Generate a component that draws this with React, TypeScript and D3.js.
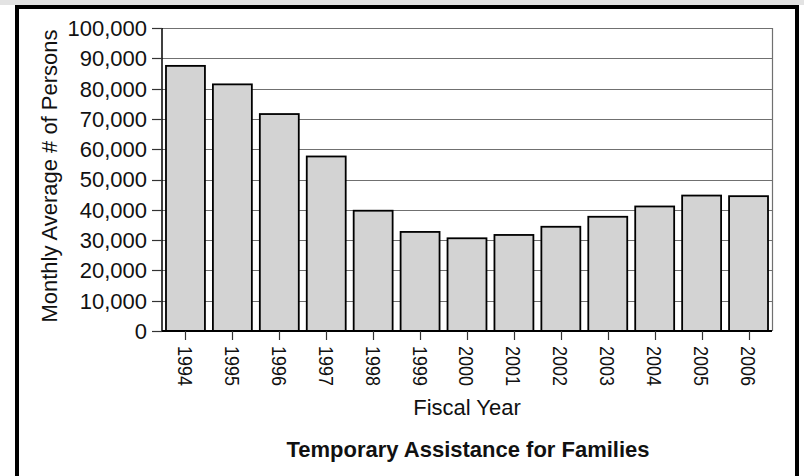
import React, {useEffect, useRef} from "react";
import * as d3 from 'd3';

// values
const years = ['1994', '1995', '1996', '1997', '1998', '1999', '2000',
    '2001', '2002', '2003', '2004', '2005', '2006'];
const persons = [87500, 81400, 71600, 57600, 39700, 32700, 30600,
    31700, 34400, 37700, 41100, 44700, 44500];
const yTicks = [0, 10000, 20000, 30000, 40000, 50000, 60000, 70000, 80000, 90000, 100000];

const WIDTH = 804;
const HEIGHT = 476;
const PLOT_LEFT = 162;
const PLOT_RIGHT = 772;
const PLOT_TOP = 28;
const PLOT_BOTTOM = 331;
const FONT = "'Liberation Sans', Arial, sans-serif";

const App: React.FC = () => {
    const d3Container = useRef(null);

    useEffect(() => {
        const svg = d3.select(d3Container.current);
        svg.selectAll('*').remove();

        const xScale = d3.scaleBand<string>()
            .domain(years)
            .range([PLOT_LEFT, PLOT_RIGHT])
            .paddingInner(0.17)
            .paddingOuter(0.085);
        const yScale = d3.scaleLinear()
            .domain([0, 100000])
            .range([PLOT_BOTTOM, PLOT_TOP]);

        // frame
        svg.append('rect')
            .attr('x', 0).attr('y', 0).attr('width', WIDTH).attr('height', 5)
            .attr('fill', '#e3e3e3');
        svg.append('rect')
            .attr('x', 17).attr('y', 7).attr('width', 780).attr('height', 480)
            .attr('fill', 'white')
            .attr('stroke', 'black')
            .attr('stroke-width', 4);

        // gridlines
        svg.append('g')
            .selectAll('line')
            .data(yTicks.filter(d => d > 0))
            .enter()
            .append('line')
            .attr('x1', PLOT_LEFT).attr('x2', PLOT_RIGHT)
            .attr('y1', d => Math.round(yScale(d)) + 0.5)
            .attr('y2', d => Math.round(yScale(d)) + 0.5)
            .attr('stroke', '#707070')
            .attr('stroke-width', 1.2);
        svg.append('line')
            .attr('x1', PLOT_RIGHT + 0.5).attr('x2', PLOT_RIGHT + 0.5)
            .attr('y1', PLOT_TOP).attr('y2', PLOT_BOTTOM)
            .attr('stroke', '#707070')
            .attr('stroke-width', 1.2);

        // bars
        svg.append('g')
            .selectAll('rect')
            .data(persons)
            .enter()
            .append('rect')
            .attr('x', (d, i) => xScale(years[i]) as number)
            .attr('y', d => yScale(d))
            .attr('width', xScale.bandwidth())
            .attr('height', d => PLOT_BOTTOM - yScale(d))
            .attr('fill', '#d3d3d3')
            .attr('stroke', 'black')
            .attr('stroke-width', 1.8);

        // y axis
        const yAxisG = svg.append('g');
        yAxisG.append('line')
            .attr('x1', PLOT_LEFT).attr('x2', PLOT_LEFT)
            .attr('y1', PLOT_TOP).attr('y2', PLOT_BOTTOM)
            .attr('stroke', 'black').attr('stroke-width', 1.5);
        yAxisG.selectAll('line.tick')
            .data(yTicks)
            .enter()
            .append('line')
            .attr('class', 'tick')
            .attr('x1', PLOT_LEFT - 10).attr('x2', PLOT_LEFT)
            .attr('y1', d => Math.round(yScale(d)) + 0.5)
            .attr('y2', d => Math.round(yScale(d)) + 0.5)
            .attr('stroke', '#333').attr('stroke-width', 1.2);
        yAxisG.selectAll('text')
            .data(yTicks)
            .enter()
            .append('text')
            .attr('x', PLOT_LEFT - 15)
            .attr('y', d => yScale(d))
            .attr('dy', '0.36em')
            .attr('text-anchor', 'end')
            .style('font-family', FONT)
            .style('font-size', '22px')
            .attr('fill', '#111')
            .text(d => d3.format(',')(d));

        // x axis
        const xAxisG = svg.append('g');
        xAxisG.append('line')
            .attr('x1', PLOT_LEFT).attr('x2', PLOT_RIGHT)
            .attr('y1', PLOT_BOTTOM).attr('y2', PLOT_BOTTOM)
            .attr('stroke', 'black').attr('stroke-width', 2);
        xAxisG.selectAll('line.tick')
            .data(years)
            .enter()
            .append('line')
            .attr('class', 'tick')
            .attr('x1', d => Math.round((xScale(d) as number) + xScale.bandwidth() / 2) + 0.5)
            .attr('x2', d => Math.round((xScale(d) as number) + xScale.bandwidth() / 2) + 0.5)
            .attr('y1', PLOT_BOTTOM).attr('y2', PLOT_BOTTOM + 9)
            .attr('stroke', '#333').attr('stroke-width', 1.2);
        xAxisG.selectAll('text')
            .data(years)
            .enter()
            .append('text')
            .attr('transform', d =>
                'translate(' + ((xScale(d) as number) + xScale.bandwidth() / 2) + ',' + (PLOT_BOTTOM + 15) + ') rotate(90)')
            .attr('dy', '0.36em')
            .attr('text-anchor', 'start')
            .attr('textLength', 40)
            .attr('lengthAdjust', 'spacingAndGlyphs')
            .style('font-family', FONT)
            .style('font-size', '21px')
            .attr('fill', '#111')
            .text(d => d);

        // titles
        svg.append('text')
            .attr('transform', 'translate(57,176) rotate(-90)')
            .attr('text-anchor', 'middle')
            .style('font-family', FONT)
            .style('font-size', '22px')
            .attr('fill', '#111')
            .text('Monthly Average # of Persons');
        svg.append('text')
            .attr('x', (PLOT_LEFT + PLOT_RIGHT) / 2)
            .attr('y', 415)
            .attr('text-anchor', 'middle')
            .style('font-family', FONT)
            .style('font-size', '22px')
            .attr('fill', '#111')
            .text('Fiscal Year');
        svg.append('text')
            .attr('x', 468)
            .attr('y', 457)
            .attr('text-anchor', 'middle')
            .style('font-family', FONT)
            .style('font-size', '22px')
            .style('font-weight', 'bold')
            .attr('fill', '#111')
            .text('Temporary Assistance for Families');
    }, []);

    return (
        <svg ref={d3Container} width={WIDTH} height={HEIGHT}
             style={{position: 'absolute', left: 0, top: 0, background: 'white'}}/>
    );
};

export default App;
